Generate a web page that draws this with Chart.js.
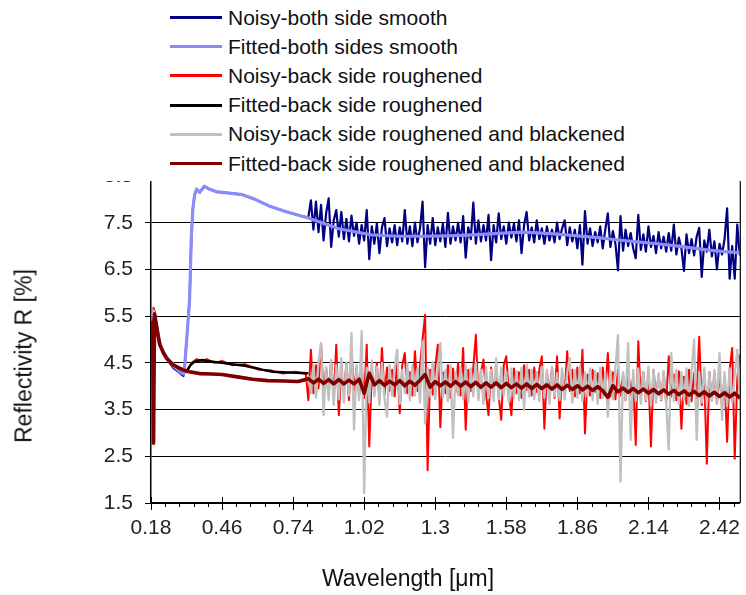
<!DOCTYPE html>
<html>
<head>
<meta charset="utf-8">
<script src="https://cdn.jsdelivr.net/npm/chart.js@4.4.1/dist/chart.umd.min.js"></script>
<style>
  html, body { margin: 0; padding: 0; background: #fff; }
  #wrap { position: relative; width: 746px; height: 595px; overflow: hidden; font-family: "Liberation Sans", Arial, sans-serif; color: #111; }
  #chart { position: absolute; left: 0; top: 0; }
  #legend { position: absolute; left: 0; top: 0; width: 746px; height: 181px; background: #fff; }
  .row { position: absolute; left: 170px; height: 29px; display: flex; align-items: center; font-size: 21px; white-space: nowrap; }
  .swatch { display: inline-block; width: 52px; height: 3px; margin-right: 6px; }
  #xtitle { position: absolute; left: 408px; top: 567px; transform: translateX(-50%); font-size: 23px; line-height: 23px; white-space: nowrap; }
  #ytitle { position: absolute; left: 24px; top: 356px; transform: translate(-50%, -50%) rotate(-90deg); font-size: 23px; line-height: 23px; white-space: nowrap; }
</style>
</head>
<body>
<div id="wrap">
  <canvas id="chart" width="746" height="595"></canvas>
  <div id="legend"></div>
  <div id="ytitle">Reflectivity R [%]</div>
  <div id="xtitle">Wavelength [μm]</div>
</div>
<script>
const seriesNames = [
    'Noisy-both side smooth',
    'Fitted-both sides smooth',
    'Noisy-back side roughened',
    'Fitted-back side roughened',
    'Noisy-back side roughened and blackened',
    'Fitted-back side roughened and blackened'
];

const wavelengthTicks = [0.18, 0.46, 0.74, 1.02, 1.30, 1.58, 1.86, 2.14, 2.42];
const wavelengthTickLabels = ['0.18', '0.46', '0.74', '1.02', '1.3', '1.58', '1.86', '2.14', '2.42'];
const reflectTicks = [1.5, 2.5, 3.5, 4.5, 5.5, 6.5, 7.5, 8.5];

// IR part of the noisy spectra is sampled every 0.01 um from 0.80 um
const irStart = 0.80;
const irStep = 0.01;
const irFitStep = 0.02;

// both sides smooth - noisy
const smoothNoisyUvX = [0.186, 0.194, 0.202, 0.21, 0.22, 0.23, 0.25, 0.27, 0.29, 0.30, 0.308, 0.313, 0.322, 0.332, 0.339, 0.345, 0.352, 0.36, 0.372, 0.39, 0.41, 0.44, 0.48, 0.54, 0.59, 0.645, 0.71, 0.76, 0.79];
const smoothNoisyUvY = [5.45, 5.5, 5.28, 5.0, 4.83, 4.7, 4.52, 4.38, 4.3, 4.25, 4.22, 4.45, 5.1, 5.85, 7.2, 7.8, 8.1, 8.22, 8.15, 8.28, 8.22, 8.16, 8.14, 8.1, 8.0, 7.86, 7.74, 7.66, 7.62];
const smoothNoisyIrY = [
    7.62, 7.98, 7.35, 7.95, 7.30, 7.88, 7.12, 7.70, 8.02, 6.98,
    7.55, 7.77, 7.20, 7.73, 7.15, 7.58, 7.10, 7.65, 7.22, 7.50,
    7.05, 7.45, 7.12, 7.77, 6.72, 7.42, 7.05, 7.48, 6.85, 7.40,
    7.60, 7.00, 7.38, 7.08, 7.45, 7.02, 7.40, 7.10, 7.77, 7.05,
    7.42, 7.00, 7.50, 7.08, 7.38, 7.95, 6.55, 7.45, 7.05, 7.60,
    7.02, 7.40, 7.10, 7.48, 6.98, 7.71, 7.05, 7.42, 7.12, 7.50,
    7.08, 7.64, 6.75, 7.40, 7.15, 7.93, 7.05, 7.55, 7.10, 7.45,
    7.12, 7.67, 6.70, 7.45, 7.08, 7.70, 7.15, 7.42, 7.05, 7.50,
    7.18, 7.48, 7.10, 7.55, 6.85, 7.45, 7.73, 7.12, 7.40, 7.08,
    7.55, 7.15, 7.38, 7.05, 7.42, 7.12, 7.35, 7.08, 7.50, 7.15,
    7.38, 7.55, 7.02, 7.40, 7.10, 7.35, 6.95, 7.45, 6.60, 7.75,
    7.05, 7.38, 7.00, 7.30, 7.08, 7.42, 6.95, 7.35, 7.70, 6.98,
    7.32, 7.05, 6.48, 7.64, 6.90, 7.35, 7.00, 7.28, 6.95, 6.74,
    7.67, 6.92, 7.25, 6.88, 7.42, 6.98, 7.22, 6.85, 7.30, 6.95,
    7.20, 6.88, 7.28, 6.90, 7.46, 6.82, 7.18, 6.95, 6.47, 7.25,
    6.85, 7.15, 6.80, 7.20, 7.39, 6.34, 7.12, 6.88, 7.35, 6.78,
    7.10, 6.50, 7.05, 6.82, 7.15, 7.81, 6.30, 7.00, 6.30, 7.46,
    6.80
];

// both sides smooth - fitted
const smoothFitX = [0.186, 0.194, 0.202, 0.21, 0.22, 0.23, 0.25, 0.27, 0.29, 0.30, 0.308, 0.313, 0.322, 0.332, 0.339, 0.345, 0.352, 0.36, 0.372, 0.39, 0.41, 0.44, 0.48, 0.54, 0.59, 0.645, 0.71, 0.80, 0.92, 1.05, 1.15, 1.25, 1.35, 1.45, 1.55, 1.64, 1.74, 1.84, 1.94, 2.04, 2.14, 2.24, 2.31, 2.37, 2.44, 2.50];
const smoothFitY = [5.45, 5.5, 5.3, 5.02, 4.85, 4.72, 4.55, 4.42, 4.33, 4.28, 4.26, 4.45, 5.1, 5.85, 7.2, 7.8, 8.1, 8.22, 8.15, 8.28, 8.22, 8.16, 8.14, 8.1, 8.0, 7.86, 7.74, 7.6, 7.37, 7.24, 7.21, 7.21, 7.22, 7.24, 7.27, 7.3, 7.27, 7.23, 7.18, 7.12, 7.07, 7.01, 6.96, 6.92, 6.88, 6.86];

// back side roughened - noisy
const roughNoisyUvX = [0.186, 0.19, 0.195, 0.202, 0.21, 0.22, 0.23, 0.25, 0.27, 0.29, 0.31, 0.32, 0.328, 0.34, 0.36, 0.38, 0.40, 0.43, 0.46, 0.50, 0.55, 0.60, 0.65, 0.70, 0.75, 0.79];
const roughNoisyUvY = [5.35, 5.68, 5.6, 5.3, 4.95, 4.82, 4.7, 4.55, 4.45, 4.38, 4.3, 4.3, 4.38, 4.5, 4.58, 4.53, 4.58, 4.5, 4.54, 4.45, 4.47, 4.36, 4.34, 4.27, 4.31, 4.26];
const roughNoisyIrY = [
    3.70, 4.78, 3.85, 4.45, 3.95, 4.92, 3.80, 4.40, 3.90, 4.55,
    3.75, 4.89, 3.38, 4.35, 3.85, 4.50, 3.70, 4.75, 3.90, 4.40,
    3.80, 4.45, 3.75, 4.89, 2.71, 4.30, 3.85, 4.50, 3.70, 4.82,
    3.82, 4.40, 3.90, 4.35, 3.78, 4.55, 3.42, 4.45, 4.71, 3.85,
    4.30, 3.80, 4.75, 3.90, 4.45, 5.00, 5.53, 2.20, 4.35, 3.82,
    4.40, 4.89, 3.12, 4.30, 3.85, 4.45, 3.75, 4.38, 3.88, 4.50,
    3.80, 4.82, 3.07, 4.35, 3.90, 4.40, 5.10, 3.75, 4.30, 4.57,
    3.82, 3.38, 4.40, 3.90, 4.35, 3.78, 3.28, 4.45, 4.64, 3.85,
    3.38, 4.38, 3.85, 4.30, 3.75, 4.45, 3.92, 4.35, 3.80, 4.40,
    3.88, 4.35, 4.64, 3.09, 4.30, 3.85, 4.40, 3.75, 4.64, 3.31,
    4.30, 3.82, 4.75, 3.90, 4.35, 3.78, 4.40, 3.85, 4.78, 2.99,
    4.25, 3.80, 4.35, 3.88, 4.28, 3.75, 4.40, 3.85, 4.71, 3.78,
    4.30, 3.72, 4.35, 3.80, 4.25, 3.70, 4.38, 3.82, 4.20, 2.74,
    4.96, 3.75, 4.30, 3.68, 4.25, 2.71, 4.35, 3.80, 4.22, 3.70,
    4.30, 3.65, 4.64, 3.78, 4.25, 3.70, 4.32, 3.09, 4.20, 3.62,
    4.35, 3.68, 4.28, 3.75, 5.06, 3.60, 4.22, 2.34, 4.30, 3.70,
    4.25, 3.62, 4.30, 3.55, 4.20, 2.81, 4.35, 4.82, 2.45, 4.15,
    4.68
];

// back side roughened - fitted
const roughFitX = [0.194, 0.202, 0.215, 0.23, 0.241, 0.267, 0.29, 0.306, 0.318, 0.325, 0.335, 0.35, 0.37, 0.383, 0.40, 0.43, 0.46, 0.50, 0.55, 0.60, 0.62, 0.66, 0.70, 0.75, 0.80];
const roughFitY = [5.55, 5.28, 4.88, 4.7, 4.6, 4.46, 4.39, 4.35, 4.33, 4.36, 4.45, 4.52, 4.55, 4.56, 4.54, 4.52, 4.5, 4.47, 4.44, 4.38, 4.35, 4.31, 4.3, 4.29, 4.28];

// back side roughened and blackened - noisy
const blackNoisyUvX = [0.186, 0.19, 0.195, 0.202, 0.21, 0.22, 0.23, 0.25, 0.27, 0.29, 0.31, 0.33, 0.36, 0.40, 0.46, 0.52, 0.58, 0.64, 0.70, 0.76, 0.79];
const blackNoisyUvY = [5.5, 5.62, 5.55, 5.3, 4.92, 4.85, 4.72, 4.58, 4.48, 4.41, 4.36, 4.33, 4.3, 4.27, 4.25, 4.21, 4.16, 4.13, 4.12, 4.11, 4.12];
const blackNoisyIrY = [
    4.20, 3.85, 4.45, 3.75, 4.50, 4.92, 3.38, 4.40, 3.70, 4.55,
    3.60, 4.45, 3.72, 4.60, 3.65, 4.50, 3.80, 5.14, 3.07, 4.45,
    3.70, 5.18, 1.71, 4.40, 3.65, 4.55, 3.78, 4.42, 3.60, 4.50,
    3.75, 3.35, 4.45, 3.80, 4.40, 4.78, 3.62, 4.35, 3.85, 4.50,
    3.70, 4.45, 3.80, 4.38, 3.65, 4.96, 3.20, 4.40, 3.78, 4.52,
    3.72, 4.40, 4.92, 3.75, 4.35, 3.68, 4.45, 2.89, 4.30, 3.80,
    4.40, 3.72, 4.45, 3.65, 4.38, 3.78, 4.50, 3.70, 4.35, 3.62,
    4.42, 3.75, 4.35, 3.68, 4.60, 3.72, 4.40, 3.80, 4.30, 3.65,
    4.38, 3.75, 4.32, 3.70, 4.40, 3.49, 4.46, 3.78, 4.35, 3.72,
    4.30, 3.68, 4.42, 3.75, 4.35, 3.62, 4.40, 3.78, 4.28, 3.70,
    4.38, 3.72, 4.30, 4.60, 3.65, 4.35, 3.75, 4.42, 3.68, 4.30,
    3.78, 4.38, 3.70, 4.32, 3.62, 4.40, 3.75, 4.28, 3.35, 4.35,
    3.72, 4.40, 5.10, 1.96, 4.30, 3.70, 4.92, 2.85, 4.35, 3.68,
    4.38, 3.62, 4.30, 3.70, 4.42, 3.58, 4.35, 3.65, 4.28, 3.72,
    4.32, 3.60, 2.64, 4.71, 3.68, 4.35, 3.62, 4.30, 3.70, 4.38,
    3.58, 4.32, 5.00, 2.85, 4.30, 3.65, 4.40, 3.60, 4.28, 3.68,
    4.35, 3.62, 4.71, 3.28, 4.30, 3.58, 4.38, 3.65, 4.25, 4.78,
    3.70
];

// back side roughened and blackened - fitted
const blackFitUvX = [0.186, 0.19, 0.194, 0.202, 0.215, 0.23, 0.241, 0.267, 0.29, 0.306, 0.33, 0.37, 0.42, 0.46, 0.52, 0.58, 0.64, 0.70, 0.76];
const blackFitUvY = [5.4, 2.78, 5.55, 5.28, 4.88, 4.7, 4.6, 4.46, 4.39, 4.35, 4.31, 4.27, 4.26, 4.25, 4.2, 4.15, 4.12, 4.11, 4.1];
const blackFitIrY = [
    4.16, 4.07, 4.15, 4.06, 4.14, 4.05, 4.14, 4.05, 4.13, 4.05,
    4.15, 3.85, 4.28, 4.03, 4.12, 4.02, 4.11, 4.03, 4.12, 4.01,
    4.11, 4.02, 4.13, 4.25, 3.98, 4.10, 4.01, 4.09, 4.00, 4.10,
    4.00, 4.09, 3.99, 4.08, 3.98, 4.07, 3.98, 4.07, 3.97, 4.06,
    3.97, 4.05, 3.96, 4.05, 3.95, 4.04, 3.95, 4.03, 3.94, 4.03,
    3.93, 4.02, 3.93, 4.01, 3.92, 4.00, 3.91, 3.99, 3.90, 3.76,
    4.01, 3.88, 3.96, 3.87, 3.95, 3.86, 3.94, 3.85, 3.93, 3.84,
    3.92, 3.83, 3.91, 3.82, 3.90, 3.81, 3.89, 3.80, 3.88, 3.79,
    3.87, 3.78, 3.86, 3.77, 3.85, 3.75
];

const COLORS = ['#000080', '#8c8cf8', '#ff0000', '#000000', '#c0c0c0', '#800000'];
const WIDTHS = [2.2, 3.2, 2, 2.5, 2.3, 3.6];
// smaller order is drawn on top
const ORDERS = [4, 3, 6, 2, 5, 1];

function pairs(xs, ys) {
    return xs.map((x, i) => ({ x: x, y: ys[i] }));
}

function irSeries(ys, step) {
    return ys.map((y, i) => ({ x: +(irStart + i * step).toFixed(3), y: y }));
}

const seriesData = [
    pairs(smoothNoisyUvX, smoothNoisyUvY).concat(irSeries(smoothNoisyIrY, irStep)),
    pairs(smoothFitX, smoothFitY),
    pairs(roughNoisyUvX, roughNoisyUvY).concat(irSeries(roughNoisyIrY, irStep)),
    pairs(roughFitX, roughFitY),
    pairs(blackNoisyUvX, blackNoisyUvY).concat(irSeries(blackNoisyIrY, irStep)),
    pairs(blackFitUvX, blackFitUvY).concat(irSeries(blackFitIrY, irFitStep))
];

// legend
const legendBox = document.getElementById('legend');
seriesNames.forEach((name, i) => {
    const row = document.createElement('div');
    row.className = 'row';
    row.style.top = (3 + i * 29.2) + 'px';
    const sw = document.createElement('span');
    sw.className = 'swatch';
    sw.style.background = COLORS[i];
    row.appendChild(sw);
    row.appendChild(document.createTextNode(name));
    legendBox.appendChild(row);
});

// right frame line and the minor / crossing ticks of the x axis
const frameAndTicks = {
    id: 'frameAndTicks',
    afterDatasetsDraw(chart) {
        const { ctx, chartArea } = chart;
        const x = chart.scales.x;
        ctx.save();
        ctx.strokeStyle = '#000';
        ctx.lineWidth = 1.2;
        ctx.beginPath();
        ctx.moveTo(chartArea.right + 0.5, chartArea.top);
        ctx.lineTo(chartArea.right + 0.5, chartArea.bottom);
        ctx.stroke();

        ctx.lineWidth = 1;
        ctx.beginPath();
        wavelengthTicks.forEach(v => {
            const px = Math.round(x.getPixelForValue(v)) + 0.5;
            ctx.moveTo(px, chartArea.bottom - 6);
            ctx.lineTo(px, chartArea.bottom);
        });
        for (let k = 0; k < 42; k++) {
            const v = 0.18 + k * 0.056;
            if (k % 5 === 0 || v > 2.5) continue;
            const px = Math.round(x.getPixelForValue(v)) + 0.5;
            ctx.moveTo(px, chartArea.bottom);
            ctx.lineTo(px, chartArea.bottom + 4);
        }
        ctx.stroke();
        ctx.restore();
    }
};

const tickFont = { family: '"Liberation Sans", Arial, sans-serif', size: 21 };

new Chart(document.getElementById('chart'), {
    type: 'line',
    data: {
        datasets: seriesNames.map((name, i) => ({
            label: name,
            data: seriesData[i],
            borderColor: COLORS[i],
            backgroundColor: COLORS[i],
            borderWidth: WIDTHS[i],
            borderJoinStyle: 'round',
            pointRadius: 0,
            tension: 0,
            fill: false,
            order: ORDERS[i]
        }))
    },
    options: {
        responsive: false,
        animation: false,
        layout: { padding: { top: 176, right: 2, left: 0, bottom: 0 } },
        plugins: {
            legend: { display: false },
            tooltip: { enabled: false }
        },
        scales: {
            x: {
                type: 'linear',
                min: 0.18,
                max: 2.5,
                afterBuildTicks: (scale) => {
                    scale.ticks = wavelengthTicks.map(v => ({ value: v }));
                },
                afterFit: (scale) => { scale.height = 92; },
                ticks: {
                    font: tickFont,
                    color: '#222',
                    padding: 6,
                    maxRotation: 0,
                    autoSkip: false,
                    callback: (value, index) => wavelengthTickLabels[index]
                },
                grid: { drawOnChartArea: false, color: '#000', tickLength: 7 },
                border: { color: '#000', width: 1.5 }
            },
            y: {
                type: 'linear',
                min: 1.5,
                max: 8.5,
                afterBuildTicks: (scale) => {
                    scale.ticks = reflectTicks.map(v => ({ value: v }));
                },
                afterFit: (scale) => { scale.width = 151; },
                ticks: {
                    font: tickFont,
                    color: '#222',
                    padding: 12,
                    callback: (value) => value.toFixed(1)
                },
                grid: { color: '#000', lineWidth: 1, tickLength: 6 },
                border: { color: '#000', width: 1.5 }
            }
        }
    },
    plugins: [frameAndTicks]
});
</script>
</body>
</html>
